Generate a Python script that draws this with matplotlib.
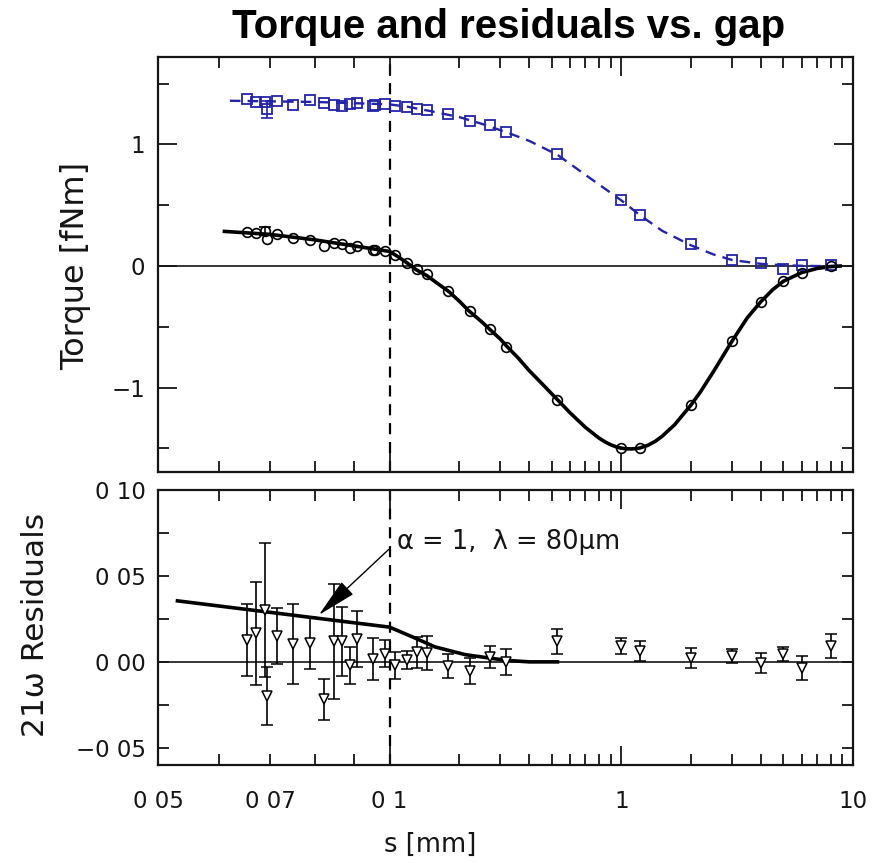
import numpy as np
import matplotlib
matplotlib.use("Agg")
import matplotlib.pyplot as plt
from matplotlib.ticker import FixedLocator, FuncFormatter, NullFormatter

# ---------------- data ----------------
# gap values shared by the torque series [mm]
s_pts = [0.0653, 0.0671, 0.0688, 0.0693, 0.0714, 0.0748, 0.0789, 0.0821,
         0.0846, 0.0866, 0.0889, 0.0907, 0.0951, 0.0956, 0.0987, 0.1058,
         0.1186, 0.131, 0.145, 0.178, 0.222, 0.27, 0.318, 0.53,
         1.0, 1.2, 2.0, 3.0, 4.0, 5.0, 6.0, 8.0]

# Newtonian (blue) torque [fNm]
torque_newton = [1.375, 1.351, 1.351, 1.288, 1.356, 1.329, 1.364, 1.342,
                 1.329, 1.315, 1.337, 1.342, 1.315, 1.329, 1.334, 1.320,
                 1.310, 1.288, 1.282, 1.247, 1.197, 1.164, 1.100, 0.918,
                 0.540, 0.417, 0.178, 0.047, 0.028, -0.021, 0.008, 0.008]

# 21-omega (black) torque [fNm]
torque_21w = [0.279, 0.274, 0.288, 0.225, 0.260, 0.233, 0.214, 0.164,
              0.192, 0.178, 0.151, 0.164, 0.131, 0.131, 0.123, 0.088,
              0.028, -0.021, -0.068, -0.205, -0.370, -0.520, -0.666, -1.100,
              -1.498, -1.498, -1.142, -0.616, -0.296, -0.123, -0.054, 0.000]

# the few torque points with visible error bars
s_err_pts = [0.0688, 0.0693]
newton_err_val = [1.288]
newton_err = [0.07]
w21_err_val = [0.288]
w21_err = [0.03]

# fitted curves
s_fit_newton = [0.062, 0.07, 0.08, 0.09, 0.1, 0.12, 0.15, 0.2, 0.25, 0.32,
                0.4, 0.53, 0.7, 1.0, 1.2, 1.5, 2.0, 2.5, 3.0, 4.0, 5.0,
                6.0, 7.0, 8.0, 9.0]
newton_fit = [1.36, 1.355, 1.35, 1.34, 1.33, 1.31, 1.275, 1.225, 1.17, 1.10,
              1.03, 0.915, 0.75, 0.54, 0.42, 0.29, 0.17, 0.095, 0.05, 0.018,
              0.006, 0.002, 0.0, 0.0, 0.0]

s_fit_21w = [0.061, 0.07, 0.08, 0.09, 0.1, 0.11, 0.12, 0.13, 0.145, 0.16,
             0.18, 0.2, 0.22, 0.25, 0.27, 0.3, 0.32, 0.36, 0.4, 0.45, 0.53,
             0.6, 0.7, 0.8, 0.85, 0.9, 0.95, 1.0, 1.05, 1.1, 1.15, 1.2,
             1.3, 1.4, 1.5, 1.7, 2.0, 2.2, 2.5, 2.7, 3.0, 3.5, 4.0, 4.5,
             5.0, 6.0, 7.0, 8.0, 8.8]
w21_fit = [0.285, 0.26, 0.215, 0.165, 0.12, 0.07, 0.02, -0.03, -0.08, -0.14,
           -0.21, -0.29, -0.37, -0.46, -0.52, -0.60, -0.66, -0.76, -0.86, -0.96,
           -1.10, -1.207, -1.328, -1.415, -1.447, -1.471, -1.488, -1.499,
           -1.504, -1.505, -1.503, -1.498, -1.476, -1.443, -1.401, -1.305,
           -1.143, -1.033, -0.868, -0.763, -0.620, -0.425, -0.294, -0.195,
           -0.126, -0.054, -0.020, -0.005, 0.0]

# 21-omega residuals
s_res = [0.0653, 0.0671, 0.0688, 0.0693, 0.0714, 0.0748, 0.0789, 0.0821,
         0.0846, 0.0866, 0.0889, 0.0907, 0.0951, 0.0987, 0.1058, 0.1186,
         0.131, 0.145, 0.178, 0.222, 0.27, 0.318, 0.53, 1.0, 1.2, 2.0,
         3.0, 4.0, 5.0, 6.0, 8.0]
residual = [0.0125, 0.0167, 0.0302, -0.0198, 0.0148, 0.0106, 0.0110, -0.0218,
            0.0119, 0.0119, -0.0021, 0.0134, 0.0017, 0.0048, -0.0021, 0.0009,
            0.0055, 0.0052, -0.0025, -0.0054, 0.0028, -0.0001, 0.0119, 0.0090,
            0.0061, 0.0023, 0.0036, -0.0006, 0.0048, -0.0035, 0.0090]
residual_err = [0.021, 0.030, 0.039, 0.017, 0.0163, 0.0233, 0.015, 0.0118,
                0.0337, 0.020, 0.011, 0.0164, 0.0122, 0.0079, 0.008, 0.0052,
                0.0091, 0.010, 0.0068, 0.0075, 0.0065, 0.0077, 0.0072, 0.0047,
                0.0058, 0.0056, 0.004, 0.006, 0.004, 0.007, 0.007]

# Yukawa signal for alpha = 1, lambda = 80 um
s_yukawa = [0.053, 0.07, 0.085, 0.1, 0.129, 0.157, 0.212, 0.267, 0.319, 0.4, 0.53]
yukawa = [0.0355, 0.0288, 0.0241, 0.0202, 0.0138, 0.0087, 0.0042, 0.0023,
          0.0009, 0.0, 0.0]

x_major = [0.1, 1, 10]
x_minor = [0.05, 0.06, 0.07, 0.08, 0.09, 0.2, 0.3, 0.4, 0.5, 0.6, 0.7, 0.8,
           0.9, 2, 3, 4, 5, 6, 7, 8, 9]
x_labels = {0.05: "0 05", 0.07: "0 07", 0.1: "0 1", 1: "1", 10: "10"}
res_ticks = [-0.05, 0.0, 0.05, 0.10]
res_labels = ["\u22120 05", "0 00", "0 05", "0 10"]

BLUE = "#2323a8"
INK = "#151515"


# ---------------- gap scale: binary log below 0.1 mm, decimal log above ----------------
def gap_fwd(s):
    s = np.clip(np.asarray(s, dtype=float), 1e-9, None)
    return np.where(s >= 0.1, np.log10(s / 0.1), np.log2(s / 0.1))


def gap_inv(f):
    f = np.asarray(f, dtype=float)
    return np.where(f >= 0, 0.1 * 10.0 ** f, 0.1 * 2.0 ** f)


plt.rcParams["font.family"] = ["DejaVu Sans"]

fig = plt.figure(figsize=(8.76, 8.63), dpi=100)
W, H = 876, 863
left, right = 158 / W, 853 / W
ax1 = fig.add_axes([left, 1 - 472 / H, right - left, (472 - 57) / H])
ax2 = fig.add_axes([left, 1 - 765 / H, right - left, (765 - 490) / H])

for ax in (ax1, ax2):
    ax.set_xscale("function", functions=(gap_fwd, gap_inv))
    ax.set_xlim(0.05, 10)
    ax.xaxis.set_major_locator(FixedLocator(x_major))
    ax.xaxis.set_minor_locator(FixedLocator(x_minor))
    ax.tick_params(which="both", direction="in", top=True, right=True,
                   width=1.3, labelsize=16.5, colors=INK)
    ax.tick_params(which="major", length=14)
    ax.tick_params(which="minor", length=8)
    ax.tick_params(axis="x", which="both", pad=18)
    ax.tick_params(axis="y", which="both", pad=9)
    for sp in ax.spines.values():
        sp.set_linewidth(1.6)
        sp.set_color(INK)
    ax.axvline(0.1, color="black", lw=1.6, ls=(0, (5, 3.5)), zorder=1)
    ax.axhline(0.0, color="black", lw=1.1, zorder=1)

# ---- torque panel ----
ax1.set_ylim(-1.695, 1.72)
ax1.yaxis.set_major_locator(FixedLocator([-1, 0, 1]))
ax1.yaxis.set_minor_locator(FixedLocator([-1.5, -0.5, 0.5, 1.5]))
ax1.yaxis.set_major_formatter(FuncFormatter(lambda v, p: f"{int(v)}".replace("-", "\u2212")))
ax1.xaxis.set_major_formatter(NullFormatter())
ax1.xaxis.set_minor_formatter(NullFormatter())

ax1.plot(s_fit_newton, newton_fit, color=BLUE, lw=1.7, ls=(0, (4.5, 3)), zorder=2)
ax1.plot(s_pts, torque_newton, ls="none", marker="s", ms=7, mfc="none",
         mec=BLUE, mew=1.3, zorder=3)
ax1.errorbar(s_err_pts[1:], newton_err_val, yerr=newton_err, fmt="none",
             ecolor=BLUE, elinewidth=1.2, capsize=4, capthick=1.2, zorder=3)

ax1.plot(s_fit_21w, w21_fit, color="black", lw=2.6, zorder=2,
         solid_joinstyle="round")
ax1.plot(s_pts, torque_21w, ls="none", marker="o", ms=7, mfc="none",
         mec="black", mew=1.2, zorder=3)
ax1.errorbar(s_err_pts[:1], w21_err_val, yerr=w21_err, fmt="none",
             ecolor="black", elinewidth=1.2, capsize=4, capthick=1.2, zorder=3)

fig.text(76 / W, 1 - 266 / H, "Torque [fNm]", rotation=90, ha="center",
         va="center", fontsize=23, color=INK)

# ---- residual panel ----
ax2.set_ylim(-0.06, 0.10)
ax2.set_yticks(res_ticks, res_labels)
ax2.yaxis.set_minor_locator(FixedLocator([-0.025, 0.025, 0.075]))
ax2.xaxis.set_major_formatter(FuncFormatter(lambda v, p: x_labels.get(round(v, 4), "")))
ax2.xaxis.set_minor_formatter(FuncFormatter(lambda v, p: x_labels.get(round(v, 4), "")))
ax2.tick_params(axis="y", which="major", length=8)

ax2.plot(s_yukawa, yukawa, color="black", lw=2.6, zorder=2)
ax2.errorbar(s_res, residual, yerr=residual_err, fmt="v", ms=7, mfc="white",
             mec="black", mew=1.1, ecolor="black", elinewidth=1.2, capsize=4,
             capthick=1.2, zorder=3)

ax2.text(0.1072, 0.0696, "\u03b1 = 1,  \u03bb = 80\u03bcm", ha="left",
         va="center", fontsize=18.5, color=INK)
ax2.annotate("", xy=(0.0809, 0.0273), xytext=(0.0997, 0.0654),
             arrowprops=dict(arrowstyle="-|>,head_length=1.4,head_width=0.3",
                             lw=1.0, color="black", mutation_scale=18,
                             shrinkA=0, shrinkB=0))

fig.text(36 / W, 1 - 625 / H, "21\u03c9 Residuals", rotation=90, ha="center",
         va="center", fontsize=22.5, color=INK)
fig.text(430 / W, 1 - 845 / H, "s [mm]", ha="center", va="center",
         fontsize=18.5, color=INK)

fig.text(509 / W, 1 - 27 / H, "Torque and residuals vs. gap", ha="center",
         va="center", fontsize=29, fontweight="bold", family="Liberation Sans")

fig.savefig("out.png", dpi=100)
